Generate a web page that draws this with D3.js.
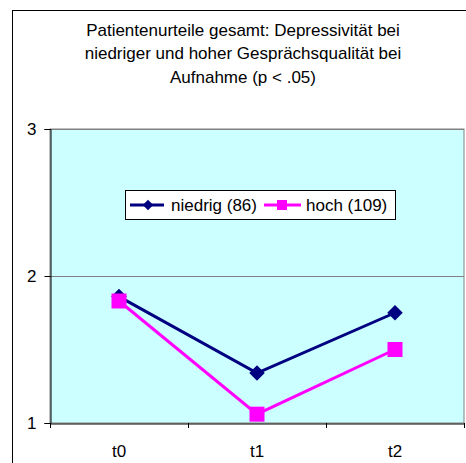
<!DOCTYPE html>
<html><head><meta charset="utf-8">
<script src="https://cdn.jsdelivr.net/npm/d3@7"></script>
<style>body{margin:0;background:#fff}svg{display:block}text{font-family:"Liberation Sans",Arial,sans-serif;fill:#000}</style>
</head><body><svg id="c" width="466" height="463"></svg>
<script>
const categories = ["t0","t1","t2"];
const niedrig = [1.86, 1.34, 1.75];
const hoch = [1.83, 1.06, 1.50];
const seriesNames = ["niedrig (86)", "hoch (109)"];
const yTicks = [1,2,3];
const titleLines = ["Patientenurteile gesamt: Depressivität bei","niedriger und hoher Gesprächsqualität bei","Aufnahme (p < .05)"];

const FS = "17px";
const svg = d3.select("#c");
svg.append("rect").attr("x",12.5).attr("y",10.5).attr("width",470).attr("height",470).attr("fill","#fff").attr("stroke","#000");

const L=50,R=464,T=129,B=423;
const x = d3.scaleBand().domain(categories).range([L,R]);
const y = d3.scaleLinear().domain([1,3]).range([B,T]);

svg.append("rect").attr("x",L).attr("y",T).attr("width",R-L).attr("height",B-T).attr("fill","#ccffff").attr("stroke","#808080");
svg.selectAll(".g").data(yTicks.slice(1)).join("line").attr("x1",L).attr("x2",R)
  .attr("y1",d=>Math.round(y(d))+0.5).attr("y2",d=>Math.round(y(d))+0.5).attr("stroke","#808080");

const ya = svg.append("g").attr("transform",`translate(${L+0.5},0)`)
  .call(d3.axisLeft(y).tickValues(yTicks).tickFormat(d3.format("d")).tickSize(6).tickPadding(8));
ya.select(".domain").attr("stroke","#000");
ya.selectAll(".tick line").attr("stroke","#000");
ya.selectAll("text").attr("font-size",null).attr("font-family",null).style("font-size",FS);

const xa = svg.append("g").attr("transform",`translate(0,${B+0.5})`)
  .call(d3.axisBottom(x).tickSize(0).tickPadding(21));
xa.select(".domain").attr("stroke","#000");
xa.selectAll("text").attr("font-size",null).attr("font-family",null).style("font-size",FS);
const bounds = categories.map(c=>x(c)).concat([R]);
svg.selectAll(".xt").data(bounds).join("line").attr("x1",d=>Math.round(d)+0.5).attr("x2",d=>Math.round(d)+0.5)
  .attr("y1",B).attr("y2",B+5).attr("stroke","#000");

const cx = c=>x(c)+x.bandwidth()/2;
const line = d3.line().x((d,i)=>cx(categories[i])).y(d=>y(d));
svg.append("path").datum(hoch).attr("d",line).attr("fill","none").attr("stroke","#ff00ff").attr("stroke-width",3);
svg.append("path").datum(niedrig).attr("d",line).attr("fill","none").attr("stroke","#000080").attr("stroke-width",3);
const diamond = d3.symbol().type(d3.symbolSquare).size(120);
svg.selectAll(".dm").data(niedrig).join("path").attr("d",diamond)
  .attr("transform",(d,i)=>`translate(${cx(categories[i])},${y(d)}) rotate(45)`).attr("fill","#000080");
svg.selectAll(".sq").data(hoch).join("rect").attr("x",(d,i)=>cx(categories[i])-7.5).attr("y",d=>y(d)-7.5)
  .attr("width",15).attr("height",15).attr("fill","#ff00ff");

svg.append("rect").attr("x",125.5).attr("y",190.5).attr("width",270).attr("height",29).attr("fill","#fff").attr("stroke","#000");
const ly=205;
svg.append("line").attr("x1",130).attr("x2",164).attr("y1",ly).attr("y2",ly).attr("stroke","#000080").attr("stroke-width",3);
svg.append("path").attr("d",d3.symbol().type(d3.symbolSquare).size(56)).attr("transform",`translate(148,${ly}) rotate(45)`).attr("fill","#000080");
svg.append("text").attr("x",171).attr("y",ly).attr("dy","0.35em").style("font-size",FS).text(seriesNames[0]);
svg.append("line").attr("x1",264).attr("x2",301).attr("y1",ly).attr("y2",ly).attr("stroke","#ff00ff").attr("stroke-width",3);
svg.append("rect").attr("x",277).attr("y",ly-5).attr("width",10).attr("height",10).attr("fill","#ff00ff");
svg.append("text").attr("x",306).attr("y",ly).attr("dy","0.35em").style("font-size",FS).text(seriesNames[1]);

svg.selectAll(".t").data(titleLines).join("text").attr("x",243).attr("y",(d,i)=>36+i*23.3)
  .attr("text-anchor","middle").style("font-size",FS).text(d=>d);
</script></body></html>
